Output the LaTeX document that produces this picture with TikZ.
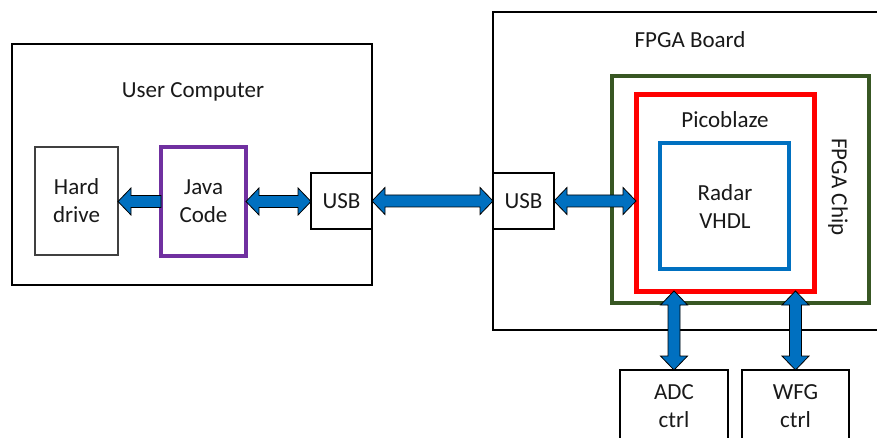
\documentclass[tikz,border=0pt]{standalone}
\usepackage{fontspec}
\setmainfont{Carlito}
\usetikzlibrary{calc}
\definecolor{arrowblue}{RGB}{0,112,192}
\definecolor{javapurple}{RGB}{112,48,160}
\definecolor{chipgreen}{RGB}{56,87,35}
\definecolor{picored}{RGB}{255,0,0}
\definecolor{radarblue}{RGB}{0,112,192}
\newcommand{\harrowD}[2]{\path[blockarrow] let \p1=(#1), \p2=(#2) in
  (\x1,\y1) -- (\x1+13pt,\y1+13.5pt) -- (\x1+13pt,\y1+6pt) -- (\x2-13pt,\y1+6pt) -- (\x2-13pt,\y1+13.5pt)
  -- (\x2,\y1) -- (\x2-13pt,\y1-13.5pt) -- (\x2-13pt,\y1-6pt) -- (\x1+13pt,\y1-6pt) -- (\x1+13pt,\y1-13.5pt) -- cycle;}
\newcommand{\harrowL}[2]{\path[blockarrow] let \p1=(#1), \p2=(#2) in
  (\x1,\y1+6pt) -- (\x2+13pt,\y1+6pt) -- (\x2+13pt,\y1+13.5pt) -- (\x2,\y1)
  -- (\x2+13pt,\y1-13.5pt) -- (\x2+13pt,\y1-6pt) -- (\x1,\y1-6pt) -- cycle;}
\newcommand{\varrowD}[2]{\path[blockarrow] let \p1=(#1), \p2=(#2) in
  (\x1,\y1) -- (\x1+13.5pt,\y1-14pt) -- (\x1+6pt,\y1-14pt) -- (\x1+6pt,\y2+14pt) -- (\x1+13.5pt,\y2+14pt)
  -- (\x1,\y2) -- (\x1-13.5pt,\y2+14pt) -- (\x1-6pt,\y2+14pt) -- (\x1-6pt,\y1-14pt) -- (\x1-13.5pt,\y1-14pt) -- cycle;}
\begin{document}
\begin{tikzpicture}[x=1pt,y=-1pt,
  every node/.style={inner sep=0pt,outer sep=0pt},
  box/.style={draw=black,line width=2.8pt,rectangle,anchor=north west},
  label/.style={font=\fontsize{23}{28}\selectfont,align=center,text=black!90},
  blockarrow/.style={fill=arrowblue,draw=black,line width=0.8pt,line join=miter}]
\useasboundingbox (0,0) rectangle (877,438);
% user computer
\node[box,minimum width=360pt,minimum height=241pt] (uc) at (12,44) {};
\node[label] (uclabel) at (193,92) {User Computer};
\node[box,draw=black!75,line width=1.3pt,minimum width=83pt,minimum height=108pt] (hd) at (35,147) {};
\node[label] (hdlabel) at (hd.center) {Hard\\drive};
\node[box,draw=javapurple,line width=4pt,minimum width=85pt,minimum height=109pt] (java) at (161,147) {};
\node[label] (javalabel) at (java.center) {Java\\Code};
\node[box,minimum width=61pt,minimum height=56pt] (usbL) at (311,173) {};
\node[label] (usbLlabel) at (usbL.center) {USB};
% FPGA board
\node[box,minimum width=390pt,minimum height=318pt] (board) at (493,12) {};
\node[label] (boardlabel) at (690,40) {FPGA Board};
\node[box,minimum width=61pt,minimum height=56pt] (usbR) at (493,173) {};
\node[label] (usbRlabel) at (usbR.center) {USB};
\node[box,draw=chipgreen,line width=4pt,minimum width=257pt,minimum height=227pt] (chip) at (612,76) {};
\node[label,rotate=-90] (chiplabel) at (838,187) {FPGA Chip};
\node[box,draw=picored,line width=5pt,minimum width=178pt,minimum height=196pt] (pico) at (636,95) {};
\node[label] (picolabel) at (725,120) {Picoblaze};
\node[box,draw=radarblue,line width=4pt,minimum width=129pt,minimum height=126pt] (radar) at (660,143) {};
\node[label] (radarlabel) at (725,207) {Radar\\VHDL};
% controllers
\node[box,minimum width=108pt,minimum height=90pt] (adc) at (620,370) {};
\node[label] (adclabel) at (674,406) {ADC\\ctrl};
\node[box,minimum width=107pt,minimum height=90pt] (wfg) at (742,370) {};
\node[label] (wfglabel) at (795.5,406) {WFG\\ctrl};
% arrows
\harrowL{java.west}{hd.east}
\harrowD{java.east}{usbL.west}
\harrowD{usbL.east}{usbR.west}
\harrowD{usbR.east}{pico.west}
\varrowD{adc.north |- pico.south}{adc.north}
\varrowD{wfg.north |- pico.south}{wfg.north}
\end{tikzpicture}
\end{document}
